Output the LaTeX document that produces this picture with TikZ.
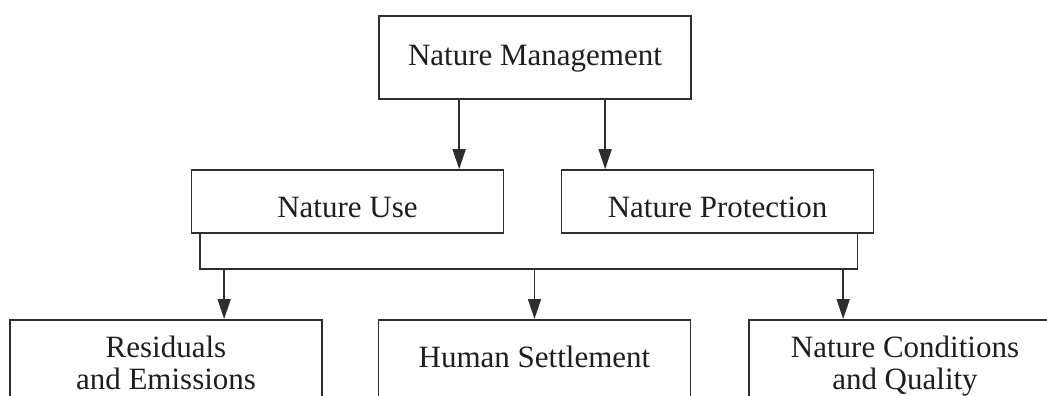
\documentclass[tikz,border=0pt]{standalone}
\usepackage{fontspec}
\setmainfont{Liberation Serif}
\usetikzlibrary{arrows.meta}
\definecolor{linec}{HTML}{2E2E2E}
\definecolor{textc}{HTML}{1E1E1E}
\begin{document}
\begin{tikzpicture}[x=1pt,y=-1pt,
  box/.style={draw=linec, line width=1.7pt, minimum width=312pt, inner xsep=0pt,
    font=\fontsize{31}{32}\selectfont, text=textc, align=center},
  arr/.style={draw=linec, line width=1.7pt, -{Triangle[length=20pt,width=13pt]}},
  conn/.style={draw=linec, line width=1.7pt}]
\useasboundingbox (0,0) rectangle (1047,396);
\clip (0,0) rectangle (1047,396);
% top
\node[box, minimum height=83pt, inner ysep=0pt, text height=23pt, text depth=7pt] (top) at (535,57.5) {Nature Management};
% middle
\node[box, minimum height=63pt, inner ysep=0pt, text height=39pt, text depth=7pt] (nu) at (347.5,201.5) {Nature Use};
\node[box, minimum height=63pt, inner ysep=0pt, text height=39pt, text depth=7pt] (np) at (717.5,201.5) {Nature Protection};
% bottom
\node[box, anchor=north, inner ysep=16pt] (res) at (166,319) {Residuals\\and Emissions};
\node[box, anchor=north, inner ysep=27pt, text height=21pt, text depth=40pt] (hs) at (534.5,319) {Human Settlement};
\node[box, anchor=north, inner ysep=16pt] (nc) at (905,319) {Nature Conditions\\and Quality};
% top arrows
\draw[arr] ([xshift=81pt]top.south west) -- ([xshift=81pt]top.south west |- nu.north);
\draw[arr] ([xshift=227pt]top.south west) -- ([xshift=227pt]top.south west |- np.north);
% bus
\path ([xshift=9pt]nu.south west) ++(0,35) coordinate (busL);
\path ([xshift=-17pt]np.south east) ++(0,35) coordinate (busR);
\draw[conn] ([xshift=9pt]nu.south west) -- (busL) -- (busR) -- ([xshift=-17pt]np.south east);
% bottom arrows
\draw[arr] ([xshift=215pt]res.north west |- busL) -- ([xshift=215pt]res.north west);
\draw[arr] (hs.north |- busL) -- (hs.north);
\draw[arr] ([xshift=95pt]nc.north west |- busL) -- ([xshift=95pt]nc.north west);
\end{tikzpicture}
\end{document}
